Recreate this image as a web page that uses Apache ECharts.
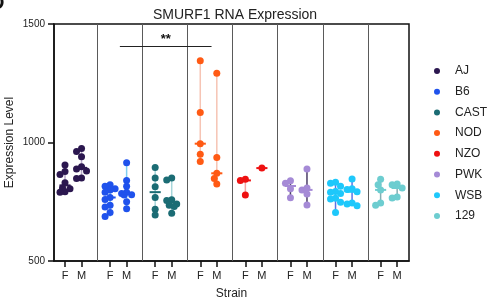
<!DOCTYPE html>
<html>
<head>
<meta charset="utf-8">
<script src="https://cdn.jsdelivr.net/npm/echarts@6/dist/echarts.min.js"></script>
<style>
  html, body { margin: 0; padding: 0; background: #fff; }
  #chart { width: 496px; height: 303px; }
</style>
</head>
<body>
<div id="chart"></div>
<script>
// strains and sexes
var strains = ['AJ', 'B6', 'CAST', 'NOD', 'NZO', 'PWK', 'WSB', '129'];
var sexes = ['F', 'M'];

// expression values, per strain / sex
var ajF = [905, 878, 865, 830, 808, 805, 792, 790];
var ajM = [975, 962, 940, 898, 888, 880, 850, 848];
var b6F = [822, 815, 805, 800, 790, 768, 760, 735, 728, 705, 688];
var b6M = [915, 840, 815, 790, 785, 780, 778, 750, 720];
var castF = [895, 850, 813, 768, 718, 694];
var castM = [850, 842, 758, 755, 740, 735, 730, 702];
var nodF = [1345, 1127, 995, 950, 920];
var nodM = [1292, 937, 870, 848, 825];
var nzoF = [845, 840, 778];
var nzoM = [892];
var pwkF = [839, 828, 805, 767];
var pwkM = [888, 808, 800, 783, 736];
var wsbF = [832, 828, 815, 793, 790, 785, 765, 762, 748, 705];
var wsbM = [846, 805, 802, 792, 745, 740, 733];
var s129F = [845, 822, 800, 745, 735];
var s129M = [825, 822, 808, 770, 766];

var groups = [
    [ajF, ajM], [b6F, b6M], [castF, castM], [nodF, nodM],
    [nzoF, nzoM], [pwkF, pwkM], [wsbF, wsbM], [s129F, s129M]
];

// significance: B6 vs NOD
var sigPair = ['B6', 'NOD'];
var sigLevel = 1407;
var sigText = '**';

// styles
var colors = ['#2b174f', '#1f52ec', '#1b6c74', '#ff5a14', '#ee1111', '#a58ad6', '#1ec8fb', '#6dcdd0'];
var rangeColors = ['#b8a9c8', '#7fcff2', '#a6d6da', '#f6c4b4', '#f5a3a3', '#4b3e66', '#5b73e6', '#86aeb3'];
var font = 'Liberation Sans, Arial, Helvetica, sans-serif';

// x layout: each strain takes 3 slots (separator, F, M)
var X_MIN = 0.268, X_MAX = 23.888;
var GRID = {left: 54, right: 87, top: 24, bottom: 42};
var X_PX = (496 - GRID.left - GRID.right) / (X_MAX - X_MIN);
var Y_PX = (303 - GRID.top - GRID.bottom) / 1000;

function slotX(g, s) { return g * 3 + (s === 0 ? 1 : 2.1); }
function sexLabel(v) {
    var r = v - Math.floor(v / 3) * 3;
    return r < 1.5 ? 'F' : 'M';
}
function median(arr) {
    var a = arr.slice().sort(function (x, y) { return x - y; });
    var n = a.length;
    return n % 2 ? a[(n - 1) / 2] : (a[n / 2 - 1] + a[n / 2]) / 2;
}
// small beeswarm: dots that would sit on top of each other move sideways a bit
function swarm(values, cx) {
    var placed = [];
    var D = 5.5, STEP = 2.5;
    var offs = [0, -1, 1, -2, 2];
    values.slice().sort(function (a, b) { return b - a; }).forEach(function (v) {
        var py = v * Y_PX;
        var best = 0, bestD = -1;
        for (var k = 0; k < offs.length; k++) {
            var px = offs[k] * STEP;
            var dmin = Infinity;
            placed.forEach(function (p) {
                var d = Math.sqrt((p.px - px) * (p.px - px) + (p.py - py) * (p.py - py));
                if (d < dmin) dmin = d;
            });
            if (dmin >= D) { best = px; bestD = dmin; break; }
            if (dmin > bestD) { bestD = dmin; best = px; }
        }
        placed.push({px: best, py: py, v: v});
    });
    return placed.map(function (p) { return [cx + p.px / X_PX, p.v]; });
}

var tickPos = [];
strains.forEach(function (n, g) { tickPos.push(slotX(g, 0), slotX(g, 1)); });

var series = [];
strains.forEach(function (name, g) {
    var pts = [];
    sexes.forEach(function (sx, s) {
        var vals = groups[g][s];
        var x = slotX(g, s);
        var med = median(vals);
        series.push({
            name: name + ' ' + sx + ' range', type: 'line', silent: true, z: 1,
            symbol: 'none', animation: false,
            lineStyle: {color: rangeColors[g], width: 1.5},
            data: [[x, Math.min.apply(null, vals)], [x, Math.max.apply(null, vals)]]
        });
        series.push({
            name: name + ' ' + sx + ' median', type: 'line', silent: true, z: 4,
            symbol: 'none', animation: false,
            lineStyle: {color: colors[g], width: 2},
            data: [[x - 0.37, med], [x + 0.37, med]]
        });
        pts = pts.concat(swarm(vals, x));
    });
    series.push({
        name: name, type: 'scatter', z: 3, animation: false,
        symbolSize: 7,
        itemStyle: {color: colors[g], opacity: 1},
        data: pts
    });
});

var sepLines = [];
for (var i = 1; i < strains.length; i++) sepLines.push({xAxis: i * 3 + 0.15});
var gA = strains.indexOf(sigPair[0]), gB = strains.indexOf(sigPair[1]);
series.push({
    name: 'frame', type: 'scatter', data: [], silent: true,
    markLine: {
        silent: true, animation: false, symbol: ['none', 'none'],
        label: {show: false},
        lineStyle: {color: '#5a5a5a', width: 1, type: 'solid'},
        data: sepLines.concat([[
            {coord: [gA * 3 + 1.65, sigLevel], lineStyle: {color: '#222', width: 1, type: 'solid'},
             label: {show: true, formatter: sigText, position: 'middle', distance: 0,
                     color: '#111', fontSize: 13, fontWeight: 'bold', fontFamily: font}},
            {coord: [gB * 3 + 1.75, sigLevel]}
        ]])
    }
});

var chart = echarts.init(document.getElementById('chart'), null, {renderer: 'canvas'});
chart.setOption({
    animation: false,
    textStyle: {fontFamily: font},
    title: {
        text: 'SMURF1 RNA Expression', left: 148, top: 3,
        textStyle: {fontSize: 14, fontWeight: 'normal', color: '#222', fontFamily: font}
    },
    graphic: [{
        type: 'text', left: -10, top: -7,
        style: {text: 'D', font: 'bold 20px ' + font, fill: '#111'}
    }],
    legend: {
        orient: 'vertical', left: 429, top: 60,
        itemWidth: 26, itemHeight: 6, itemGap: 8.7, icon: 'circle',
        textStyle: {fontSize: 12, color: '#222', fontFamily: font},
        data: strains
    },
    grid: {
        left: GRID.left, right: GRID.right, top: GRID.top, bottom: GRID.bottom,
        outerBoundsMode: 'none', containLabel: false,
        show: true, borderColor: '#111', borderWidth: 1.5
    },
    xAxis: {
        type: 'value', min: X_MIN, max: X_MAX,
        name: 'Strain', nameLocation: 'middle', nameGap: 27, nameMoveOverlap: false,
        nameTextStyle: {fontSize: 12, color: '#222', fontFamily: font},
        axisLine: {show: true, onZero: false, lineStyle: {color: '#111', width: 1.5}},
        axisTick: {show: true, customValues: tickPos, length: 6, lineStyle: {color: '#111', width: 1.5}},
        axisLabel: {show: true, customValues: tickPos, formatter: sexLabel, margin: 9,
                    fontSize: 11, color: '#222', fontFamily: font},
        splitLine: {show: false}
    },
    yAxis: {
        type: 'value', min: 500, max: 1500, interval: 500,
        name: 'Expression Level', nameLocation: 'middle', nameGap: 38, nameMoveOverlap: false,
        nameTextStyle: {fontSize: 12, color: '#222', fontFamily: font},
        axisLine: {show: true, lineStyle: {color: '#111', width: 1.5}},
        axisTick: {show: true, length: 6, lineStyle: {color: '#111', width: 1.5}},
        axisLabel: {fontSize: 10, color: '#222', margin: 9, fontFamily: font,
                    formatter: function (v) { return String(v); }},
        splitLine: {show: false}
    },
    series: series
});
</script>
</body>
</html>
